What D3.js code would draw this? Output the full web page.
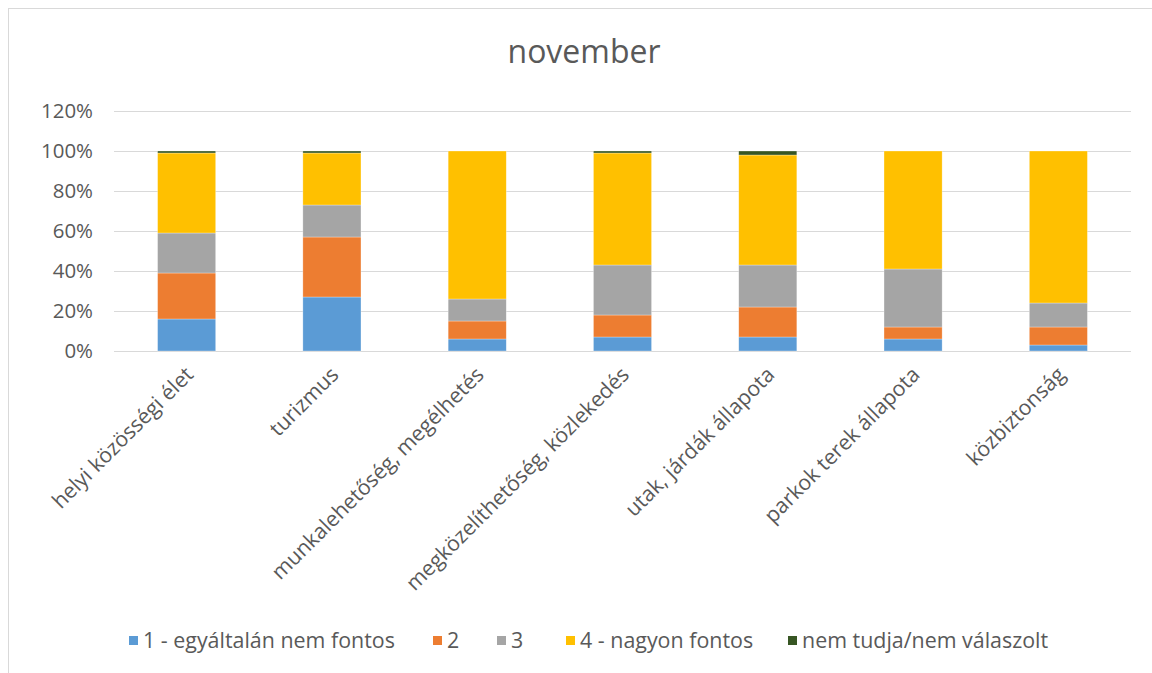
<!DOCTYPE html>
<html>
<head>
<meta charset="utf-8">
<script src="https://cdnjs.cloudflare.com/ajax/libs/d3/7.8.5/d3.min.js"></script>
<style>
  body { margin: 0; background: #fff; }
  svg text { font-family: "Open Sans", Lato, sans-serif; fill: #595959; }
</style>
</head>
<body>
<svg id="chart"></svg>
<script>
// chart data
let categories = ["helyi közösségi élet", "turizmus", "munkalehetőség, megélhetés",
    "megközelíthetőség, közlekedés", "utak, járdák állapota", "parkok terek állapota", "közbiztonság"];
let seriesNames = ["1 - egyáltalán nem fontos", "2", "3", "4 - nagyon fontos", "nem tudja/nem válaszolt"];
let s1 = [16, 27, 6, 7, 7, 6, 3];
let s2 = [23, 30, 9, 11, 15, 6, 9];
let s3 = [20, 16, 11, 25, 21, 29, 12];
let s4 = [40, 26, 74, 56, 55, 59, 76];
let s5 = [1, 1, 0, 1, 2, 0, 0];
let yTicks = [0, 20, 40, 60, 80, 100, 120];
let colors = ["#5B9BD5", "#ED7D31", "#A5A5A5", "#FFC000", "#375623"];

let width = 1152, height = 673;
let svg = d3.select("#chart").attr("width", width).attr("height", height);

// size a font so a sample string gets the width it has in the picture
function fitSize(sample, target) {
    let t = svg.append("text").style("font-size", "20px").text(sample);
    let w = t.node().getComputedTextLength();
    t.remove();
    return 20 * target / w;
}
let titleSize = fitSize("november", 153);
let tickSize = fitSize("120%", 52);
let catSize = fitSize("munkalehetőség, megélhetés", 290);
let legSize = fitSize("1 - egyáltalán nem fontos", 252);

// outer chart border
svg.append("rect")
    .attr("x", 8.5).attr("y", 8.5)
    .attr("width", 1200).attr("height", 700)
    .attr("fill", "none").attr("stroke", "#D9D9D9");

svg.append("text")
    .attr("x", 584).attr("y", 63)
    .attr("text-anchor", "middle")
    .style("font-size", titleSize + "px")
    .text("november");

let plotLeft = 114, plotRight = 1131, plotTop = 111, plotBottom = 351;

let xScale = d3.scaleBand().domain(categories).range([plotLeft, plotRight]).paddingInner(0.6).paddingOuter(0.3);
let yScale = d3.scaleLinear().domain([0, 120]).range([plotBottom, plotTop]);

// gridlines
svg.append("g").selectAll("line")
    .data(yTicks)
    .enter().append("line")
    .attr("x1", plotLeft).attr("x2", plotRight)
    .attr("y1", d => yScale(d) + 0.5).attr("y2", d => yScale(d) + 0.5)
    .attr("stroke", "#D9D9D9").attr("stroke-width", 1);

let yAxis = d3.axisLeft(yScale).tickValues(yTicks).tickFormat(d => d + "%").tickSize(0).tickPadding(0);
let yg = svg.append("g").attr("transform", "translate(93,0)").call(yAxis);
yg.select(".domain").remove();
yg.selectAll("text")
    .style("font-size", tickSize + "px")
    .style("font-family", "'Open Sans', sans-serif")
    .attr("fill", "#595959");

// stacked bars
let rows = categories.map((c, i) => ({ cat: c, v0: s1[i], v1: s2[i], v2: s3[i], v3: s4[i], v4: s5[i] }));
let stack = d3.stack().keys(["v0", "v1", "v2", "v3", "v4"]);
let layers = stack(rows);

svg.append("g").selectAll("g")
    .data(layers)
    .enter().append("g")
    .attr("fill", (d, i) => colors[i])
    .selectAll("rect")
    .data(d => d)
    .enter().append("rect")
    .attr("x", d => xScale(d.data.cat))
    .attr("width", xScale.bandwidth())
    .attr("y", d => yScale(d[1]))
    .attr("height", d => yScale(d[0]) - yScale(d[1]))
    .attr("stroke", "#fff").attr("stroke-width", 0.6).attr("stroke-opacity", 0.5);

// category labels
svg.append("g").selectAll("text")
    .data(categories)
    .enter().append("text")
    .attr("transform", d => "translate(" + (xScale(d) + xScale.bandwidth() / 2 + 8) + ",376) rotate(-45)")
    .attr("text-anchor", "end")
    .style("font-size", catSize + "px")
    .text(d => d);

// legend
let legX = [129, 433, 497, 566, 788];
let leg = svg.append("g").selectAll("g")
    .data(seriesNames)
    .enter().append("g")
    .attr("transform", (d, i) => "translate(" + legX[i] + ",641)");
leg.append("rect").attr("x", 0).attr("y", -5).attr("width", 9).attr("height", 9)
    .attr("fill", (d, i) => colors[i]);
leg.append("text").attr("x", 14).attr("y", 7).style("font-size", legSize + "px").text(d => d);
</script>
</body>
</html>
